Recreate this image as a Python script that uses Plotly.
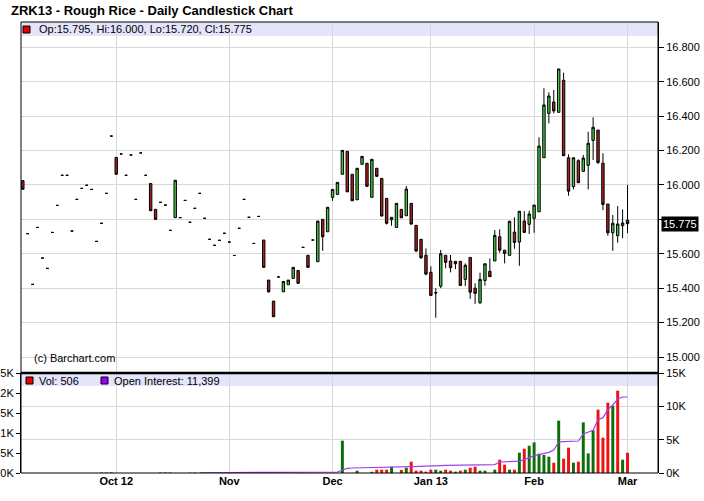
import plotly.graph_objects as go
import pandas as pd

# ---------------- data ----------------
holidays = ["2012-11-22", "2012-12-25", "2013-01-01", "2013-01-21", "2013-02-18"]
dates = [d for d in pd.bdate_range("2012-09-04", "2013-03-01") if d.strftime("%Y-%m-%d") not in holidays]

opens = [16.025, 15.717, 15.422, 15.753, 15.575, 15.515, 15.724, 15.881, 16.056, 16.056,
         15.732, 15.916, 15.980, 15.998, 15.974, 15.672, 15.777, 15.951, 16.284, 16.160,
         16.180, 16.056, 16.174, 15.916, 16.186, 16.056, 16.008, 15.858, 15.899, 15.883,
         15.736, 15.810, 15.810, 15.910, 15.783, 15.864, 15.951, 15.806, 15.684, 15.649,
         15.678, 15.719, 15.668, 15.590, 15.748, 15.916, 15.812, 15.660, 15.817, 15.680,
         15.447, 15.325, 15.465, 15.379, 15.420, 15.457, 15.503, 15.637, 15.591, 15.680,
         15.554, 15.800, 15.728, 15.928, 15.945, 16.062, 16.195, 16.062, 15.914, 16.120,
         16.126, 15.928, 16.097, 16.038, 15.922, 15.798, 15.753, 15.858, 15.821, 15.893,
         15.765, 15.684, 15.591, 15.492, 15.375, 15.412, 15.591, 15.558, 15.556, 15.556,
         15.451, 15.579, 15.400, 15.315, 15.445, 15.498, 15.558, 15.699, 15.621, 15.591,
         15.726, 15.668, 15.790, 15.771, 15.806, 15.844, 16.158, 16.416, 16.482, 16.422,
         16.608, 16.158, 15.990, 16.141, 16.079, 16.114, 16.259, 16.319, 16.126, 15.889,
         15.722, 15.705, 15.763, 15.795]
highs = [16.025, 15.717, 15.422, 15.753, 15.575, 15.515, 15.724, 15.881, 16.056, 16.056,
         15.732, 15.916, 15.980, 15.998, 15.974, 15.672, 15.777, 15.951, 16.284, 16.160,
         16.180, 16.056, 16.174, 15.916, 16.186, 16.056, 16.008, 15.858, 15.899, 15.883,
         15.736, 16.027, 15.810, 15.910, 15.783, 15.864, 15.951, 15.806, 15.684, 15.649,
         15.678, 15.719, 15.668, 15.590, 15.748, 15.916, 15.812, 15.660, 15.817, 15.680,
         15.447, 15.325, 15.465, 15.439, 15.447, 15.521, 15.503, 15.637, 15.591, 15.680,
         15.790, 15.800, 15.870, 15.974, 16.015, 16.201, 16.195, 16.062, 16.097, 16.166,
         16.126, 16.149, 16.097, 16.038, 15.922, 15.812, 15.893, 15.858, 15.994, 15.893,
         15.765, 15.684, 15.631, 15.527, 15.400, 15.622, 15.591, 15.593, 15.556, 15.556,
         15.544, 15.579, 15.428, 15.490, 15.542, 15.573, 15.738, 15.742, 15.621, 15.789,
         15.812, 15.847, 15.848, 15.850, 15.883, 16.277, 16.562, 16.538, 16.552, 16.674,
         16.652, 16.178, 16.158, 16.149, 16.174, 16.309, 16.393, 16.319, 16.184, 15.889,
         15.825, 15.877, 15.858, 16.000]
lows = [15.975, 15.717, 15.422, 15.753, 15.575, 15.515, 15.724, 15.881, 16.056, 16.056,
        15.732, 15.916, 15.980, 15.998, 15.974, 15.672, 15.777, 15.951, 16.284, 16.062,
        16.180, 16.056, 16.174, 15.916, 16.186, 16.056, 15.850, 15.800, 15.899, 15.883,
        15.736, 15.810, 15.810, 15.910, 15.783, 15.864, 15.951, 15.806, 15.684, 15.649,
        15.678, 15.719, 15.668, 15.590, 15.748, 15.916, 15.812, 15.660, 15.817, 15.521,
        15.374, 15.234, 15.465, 15.379, 15.420, 15.457, 15.428, 15.637, 15.521, 15.680,
        15.554, 15.617, 15.728, 15.908, 15.945, 16.062, 15.960, 15.908, 15.914, 16.120,
        15.992, 15.928, 16.050, 15.819, 15.770, 15.763, 15.753, 15.809, 15.821, 15.768,
        15.610, 15.570, 15.475, 15.358, 15.228, 15.400, 15.515, 15.492, 15.511, 15.416,
        15.412, 15.338, 15.309, 15.309, 15.414, 15.467, 15.558, 15.606, 15.544, 15.591,
        15.629, 15.530, 15.724, 15.715, 15.722, 15.844, 16.158, 16.358, 16.416, 16.422,
        16.170, 15.937, 15.974, 16.013, 16.079, 15.974, 16.145, 16.122, 15.854, 15.705,
        15.617, 15.664, 15.690, 15.720]
closes = [15.975, 15.717, 15.422, 15.753, 15.575, 15.515, 15.724, 15.881, 16.056, 16.056,
          15.732, 15.916, 15.980, 15.998, 15.974, 15.672, 15.777, 15.951, 16.284, 16.062,
          16.180, 16.056, 16.174, 15.916, 16.186, 16.056, 15.850, 15.800, 15.899, 15.883,
          15.736, 16.027, 15.810, 15.910, 15.783, 15.864, 15.951, 15.806, 15.684, 15.649,
          15.678, 15.719, 15.668, 15.590, 15.748, 15.916, 15.812, 15.660, 15.817, 15.521,
          15.379, 15.234, 15.465, 15.439, 15.447, 15.521, 15.428, 15.637, 15.521, 15.680,
          15.790, 15.699, 15.870, 15.974, 16.015, 16.201, 15.960, 15.908, 16.097, 16.166,
          15.992, 16.149, 16.050, 15.819, 15.777, 15.812, 15.893, 15.809, 15.976, 15.773,
          15.616, 15.577, 15.482, 15.358, 15.372, 15.600, 15.550, 15.519, 15.542, 15.416,
          15.533, 15.377, 15.370, 15.451, 15.542, 15.467, 15.707, 15.621, 15.602, 15.789,
          15.666, 15.847, 15.724, 15.831, 15.883, 16.226, 16.465, 16.517, 16.430, 16.674,
          16.170, 15.964, 16.158, 16.013, 16.156, 16.242, 16.335, 16.131, 15.887, 15.722,
          15.777, 15.773, 15.779, 15.775]
volume = [0, 0, 0, 0, 0, 0, 0, 0, 0, 0,
          0, 0, 0, 0, 0, 0, 12, 12, 15, 0,
          0, 0, 0, 0, 0, 0, 0, 0, 12, 15,
          12, 0, 0, 0, 10, 10, 0, 0, 0, 0,
          0, 0, 0, 0, 0, 0, 0, 0, 0, 0,
          10, 0, 0, 10, 0, 0, 0, 0, 0, 0,
          0, 0, 0, 0, 0, 808, 0, 0, 58, 0,
          0, 30, 83, 83, 83, 158, 0, 75, 133, 283,
          58, 58, 33, 83, 83, 58, 83, 58, 33, 58,
          83, 133, 158, 58, 58, 0, 83, 333, 208, 83,
          83, 508, 608, 683, 766, 483, 450, 408, 258, 1308,
          358, 633, 258, 283, 1266, 491, 1066, 1583, 883, 1758,
          1683, 2058, 333, 506]
open_interest = [None] * 36 + [
    40, 40, 50, 50, 50, 60, 60, 60, 70, 70, 80, 80, 80, 90, 90, 90, 100, 100, 100, 110,
    110, 110, 120, 120, 120, 130, 130, 140, 150, 450, 700, 750, 760, 770, 780, 790, 800, 820,
    830, 850, 870, 890, 910, 940, 960, 990, 1020, 1080, 1100, 1110, 1130, 1140, 1150, 1170,
    1180, 1200, 1210, 1220, 1230, 1240, 1260, 1650, 1680, 1700, 1720, 1780, 2000, 2350, 2600,
    2750, 2900, 3100, 3450, 4650, 4700, 4700, 4750, 4800, 5850, 6100, 6400, 8000, 8300, 9500,
    10200, 11100, 11400, 11399]
month_labels = ["Oct 12", "Nov", "Dec", "Jan 13", "Feb", "Mar"]
price_ticks = [15.0, 15.2, 15.4, 15.6, 15.8, 16.0, 16.2, 16.4, 16.6, 16.8]
last_price = 15.775

# ---------------- derived ----------------
idx = list(range(len(dates)))
month_pos = [i for i in idx[1:] if dates[i].month != dates[i - 1].month]
vol_colors = ["#0b6e0b"] + ["#0b6e0b" if closes[i] >= closes[i - 1] else "#ee1111" for i in idx[1:]]
price_ticktext = ["" if abs(v - 15.8) < 1e-9 else f"{v:.3f}" for v in price_ticks]

# pixel helpers (plot area: x 21..658, y 22..473, split at 373)
L, R, T, B, S = 21, 658, 22, 473, 373
def px(x):
    return (x - L) / (R - L)
def py(y):
    return (B - y) / (B - T)

split = py(S)
FONT = "Liberation Sans, Arial, sans-serif"
GRID = "#d8d8d8"

fig = go.Figure()
fig.add_trace(go.Candlestick(
    x=idx, open=opens, high=highs, low=lows, close=closes,
    xaxis="x", yaxis="y",
    increasing=dict(line=dict(color="black", width=1), fillcolor="#44c444"),
    decreasing=dict(line=dict(color="black", width=1), fillcolor="#aa2020"),
    whiskerwidth=0, showlegend=False, hoverinfo="skip"))
fig.add_trace(go.Bar(
    x=idx, y=volume, xaxis="x2", yaxis="y2", width=0.6,
    marker=dict(color=vol_colors, line=dict(width=0)), showlegend=False, hoverinfo="skip"))
fig.add_trace(go.Scatter(
    x=idx, y=open_interest, xaxis="x2", yaxis="y3", mode="lines",
    line=dict(color="#a040f0", width=1.2), showlegend=False, hoverinfo="skip"))

xr = [-0.37, 129.2]
common_x = dict(range=xr, tickvals=month_pos, showgrid=True, gridcolor=GRID, gridwidth=1,
                zeroline=False, showline=False, ticks="", fixedrange=True, automargin=False)

fig.update_layout(
    width=704, height=501,
    margin=dict(l=L, r=704 - R, t=T, b=501 - B, pad=0, autoexpand=False),
    paper_bgcolor="white", plot_bgcolor="white",
    font=dict(family=FONT, size=11, color="black"),
    boxgap=0.3,
    title=dict(text="<b>ZRK13 - Rough Rice - Daily Candlestick Chart</b>",
               x=11 / 704, xanchor="left", y=1 - 10.5 / 501, yanchor="middle",
               automargin=False,
               font=dict(family=FONT, size=13, color="black")),
    xaxis=dict(**common_x, domain=[0, 1], anchor="y", matches="x2",
               showticklabels=False, rangeslider=dict(visible=False)),
    xaxis2=dict(**common_x, domain=[0, 1], anchor="y2",
                ticktext=[f"<b>{m}</b>" for m in month_labels], showticklabels=True,
                tickfont=dict(family=FONT, size=11, color="black")),
    yaxis=dict(domain=[split, 1], anchor="x", side="right",
               range=[14.907, 16.947], tickvals=price_ticks, ticktext=price_ticktext,
               ticks="outside", ticklen=5, tickcolor="black", automargin=False,
               showgrid=True, gridcolor=GRID, zeroline=False,
               showline=True, linecolor="black", linewidth=1, fixedrange=True),
    yaxis2=dict(domain=[0, split], anchor="x2", side="left",
                range=[0, 2500], tickvals=[0, 500, 1000, 1500, 2000, 2500],
                ticktext=["0K", "0.5K", "1K", "1.5K", "2K", "2.5K"],
                ticks="outside", ticklen=4, tickcolor="black", automargin=False,
                showgrid=False, zeroline=False,
                showline=True, linecolor="black", linewidth=1, fixedrange=True),
    yaxis3=dict(domain=[0, split], anchor="x2", overlaying="y2", side="right",
                range=[0, 15000], tickvals=[0, 5000, 10000, 15000],
                ticktext=["0K", "5K", "10K", "15K"],
                ticks="outside", ticklen=5, tickcolor="black", automargin=False,
                showgrid=True, gridcolor=GRID, zeroline=False,
                showline=True, linecolor="black", linewidth=1, fixedrange=True),
)

shapes = [
    # legend bands
    dict(type="rect", xref="paper", yref="paper", x0=0, x1=1, y0=py(36), y1=1,
         fillcolor="#e4e4fa", line=dict(width=0), layer="below"),
    dict(type="rect", xref="paper", yref="paper", x0=0, x1=1, y0=py(386), y1=split,
         fillcolor="#e4e4fa", line=dict(width=0), layer="below"),
    # legend squares
    dict(type="rect", xref="paper", yref="paper", x0=px(23), x1=px(30), y0=py(33), y1=py(26),
         fillcolor="#dd0000", line=dict(color="black", width=1)),
    dict(type="rect", xref="paper", yref="paper", x0=px(26), x1=px(33), y0=py(384), y1=py(377),
         fillcolor="#ee0000", line=dict(color="black", width=1)),
    dict(type="rect", xref="paper", yref="paper", x0=px(101), x1=px(108), y0=py(384), y1=py(377),
         fillcolor="#9900ff", line=dict(color="black", width=1)),
    # frames
    dict(type="rect", xref="paper", yref="paper", x0=0, x1=1, y0=split, y1=1,
         line=dict(color="black", width=1)),
    dict(type="rect", xref="paper", yref="paper", x0=0, x1=1, y0=0, y1=split,
         line=dict(color="black", width=1)),
    dict(type="line", xref="paper", yref="paper", x0=0, x1=1, y0=split, y1=split,
         line=dict(color="black", width=2.5)),
]
fig.update_layout(shapes=shapes)

annotations = [
    dict(text="Op:15.795, Hi:16.000, Lo:15.720, Cl:15.775", xref="paper", yref="paper",
         x=px(37), y=py(29.5), xanchor="left", yanchor="middle", showarrow=False,
         font=dict(family=FONT, size=11, color="black")),
    dict(text="Vol: 506", xref="paper", yref="paper",
         x=px(37), y=py(380.5), xanchor="left", yanchor="middle", showarrow=False,
         font=dict(family=FONT, size=11, color="black")),
    dict(text="Open Interest: 11,399", xref="paper", yref="paper",
         x=px(112), y=py(380.5), xanchor="left", yanchor="middle", showarrow=False,
         font=dict(family=FONT, size=11, color="black")),
    dict(text="(c) Barchart.com", xref="paper", yref="paper",
         x=px(32), y=py(358), xanchor="left", yanchor="middle", showarrow=False,
         font=dict(family=FONT, size=11, color="black")),
    dict(text=f"{last_price:.3f}", xref="paper", yref="y",
         x=px(661), y=last_price, xanchor="left", yanchor="middle", showarrow=False,
         bgcolor="black", borderpad=1, font=dict(family=FONT, size=11, color="white")),
]
fig.update_layout(annotations=annotations)

fig.write_html("out.html",
               config={"displayModeBar": False, "staticPlot": True},
               post_script="document.body.style.margin='0';document.body.style.overflow='hidden';")
